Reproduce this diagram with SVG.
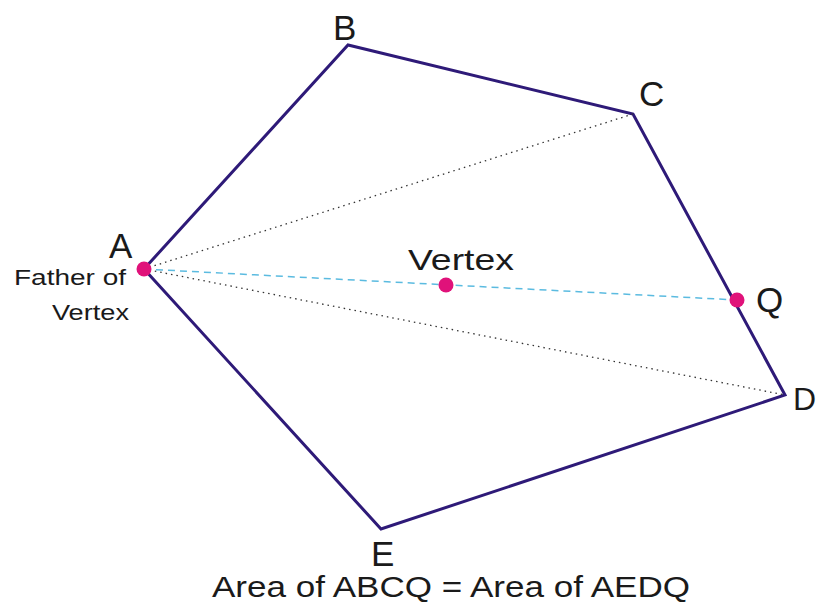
<svg xmlns="http://www.w3.org/2000/svg" width="819" height="602" viewBox="0 0 819 602">
<style>
.lbl{font-family:"Liberation Sans",Arial,sans-serif;fill:#1a1a1a}
.big{font-size:35px}
.edge{stroke:#2e1a78;stroke-width:3;fill:none;stroke-linejoin:miter}
.dot{fill:#e0127a}
</style>
<rect width="819" height="602" fill="#ffffff"/>
<g id="connectors">
<polygon class="edge" points="144,269 348,45 633,114 785,395 381,529"/>
<line x1="144" y1="269" x2="633" y2="114" stroke="#333" stroke-width="1.3" stroke-dasharray="1.5,4"/>
<line x1="144" y1="269" x2="785" y2="395" stroke="#333" stroke-width="1.3" stroke-dasharray="1.5,4"/>
<line x1="144" y1="269" x2="737" y2="300" stroke="#5bbbe0" stroke-width="1.5" stroke-dasharray="7,5"/>
</g>
<g id="node-A"><circle class="dot" cx="144" cy="269" r="7.5"/><text class="lbl big" x="109" y="258">A</text>
<text class="lbl" x="14" y="285" font-size="22" textLength="112" lengthAdjust="spacingAndGlyphs">Father of</text>
<text class="lbl" x="52" y="320" font-size="22" textLength="77" lengthAdjust="spacingAndGlyphs">Vertex</text></g>
<g id="node-B"><text class="lbl big" x="333" y="40">B</text></g>
<g id="node-C"><text class="lbl big" x="639" y="106">C</text></g>
<g id="node-Q"><circle class="dot" cx="737" cy="300" r="7.5"/><text class="lbl big" x="756" y="312">Q</text></g>
<g id="node-D"><text class="lbl" x="793" y="410" font-size="32">D</text></g>
<g id="node-E"><text class="lbl big" x="371" y="566">E</text></g>
<g id="node-Vertex"><circle class="dot" cx="446" cy="285" r="7.5"/><text class="lbl" x="408" y="270" font-size="30" textLength="106" lengthAdjust="spacingAndGlyphs">Vertex</text></g>
<text class="lbl" x="212" y="597" font-size="30" textLength="478" lengthAdjust="spacingAndGlyphs">Area of ABCQ = Area of AEDQ</text>
</svg>
